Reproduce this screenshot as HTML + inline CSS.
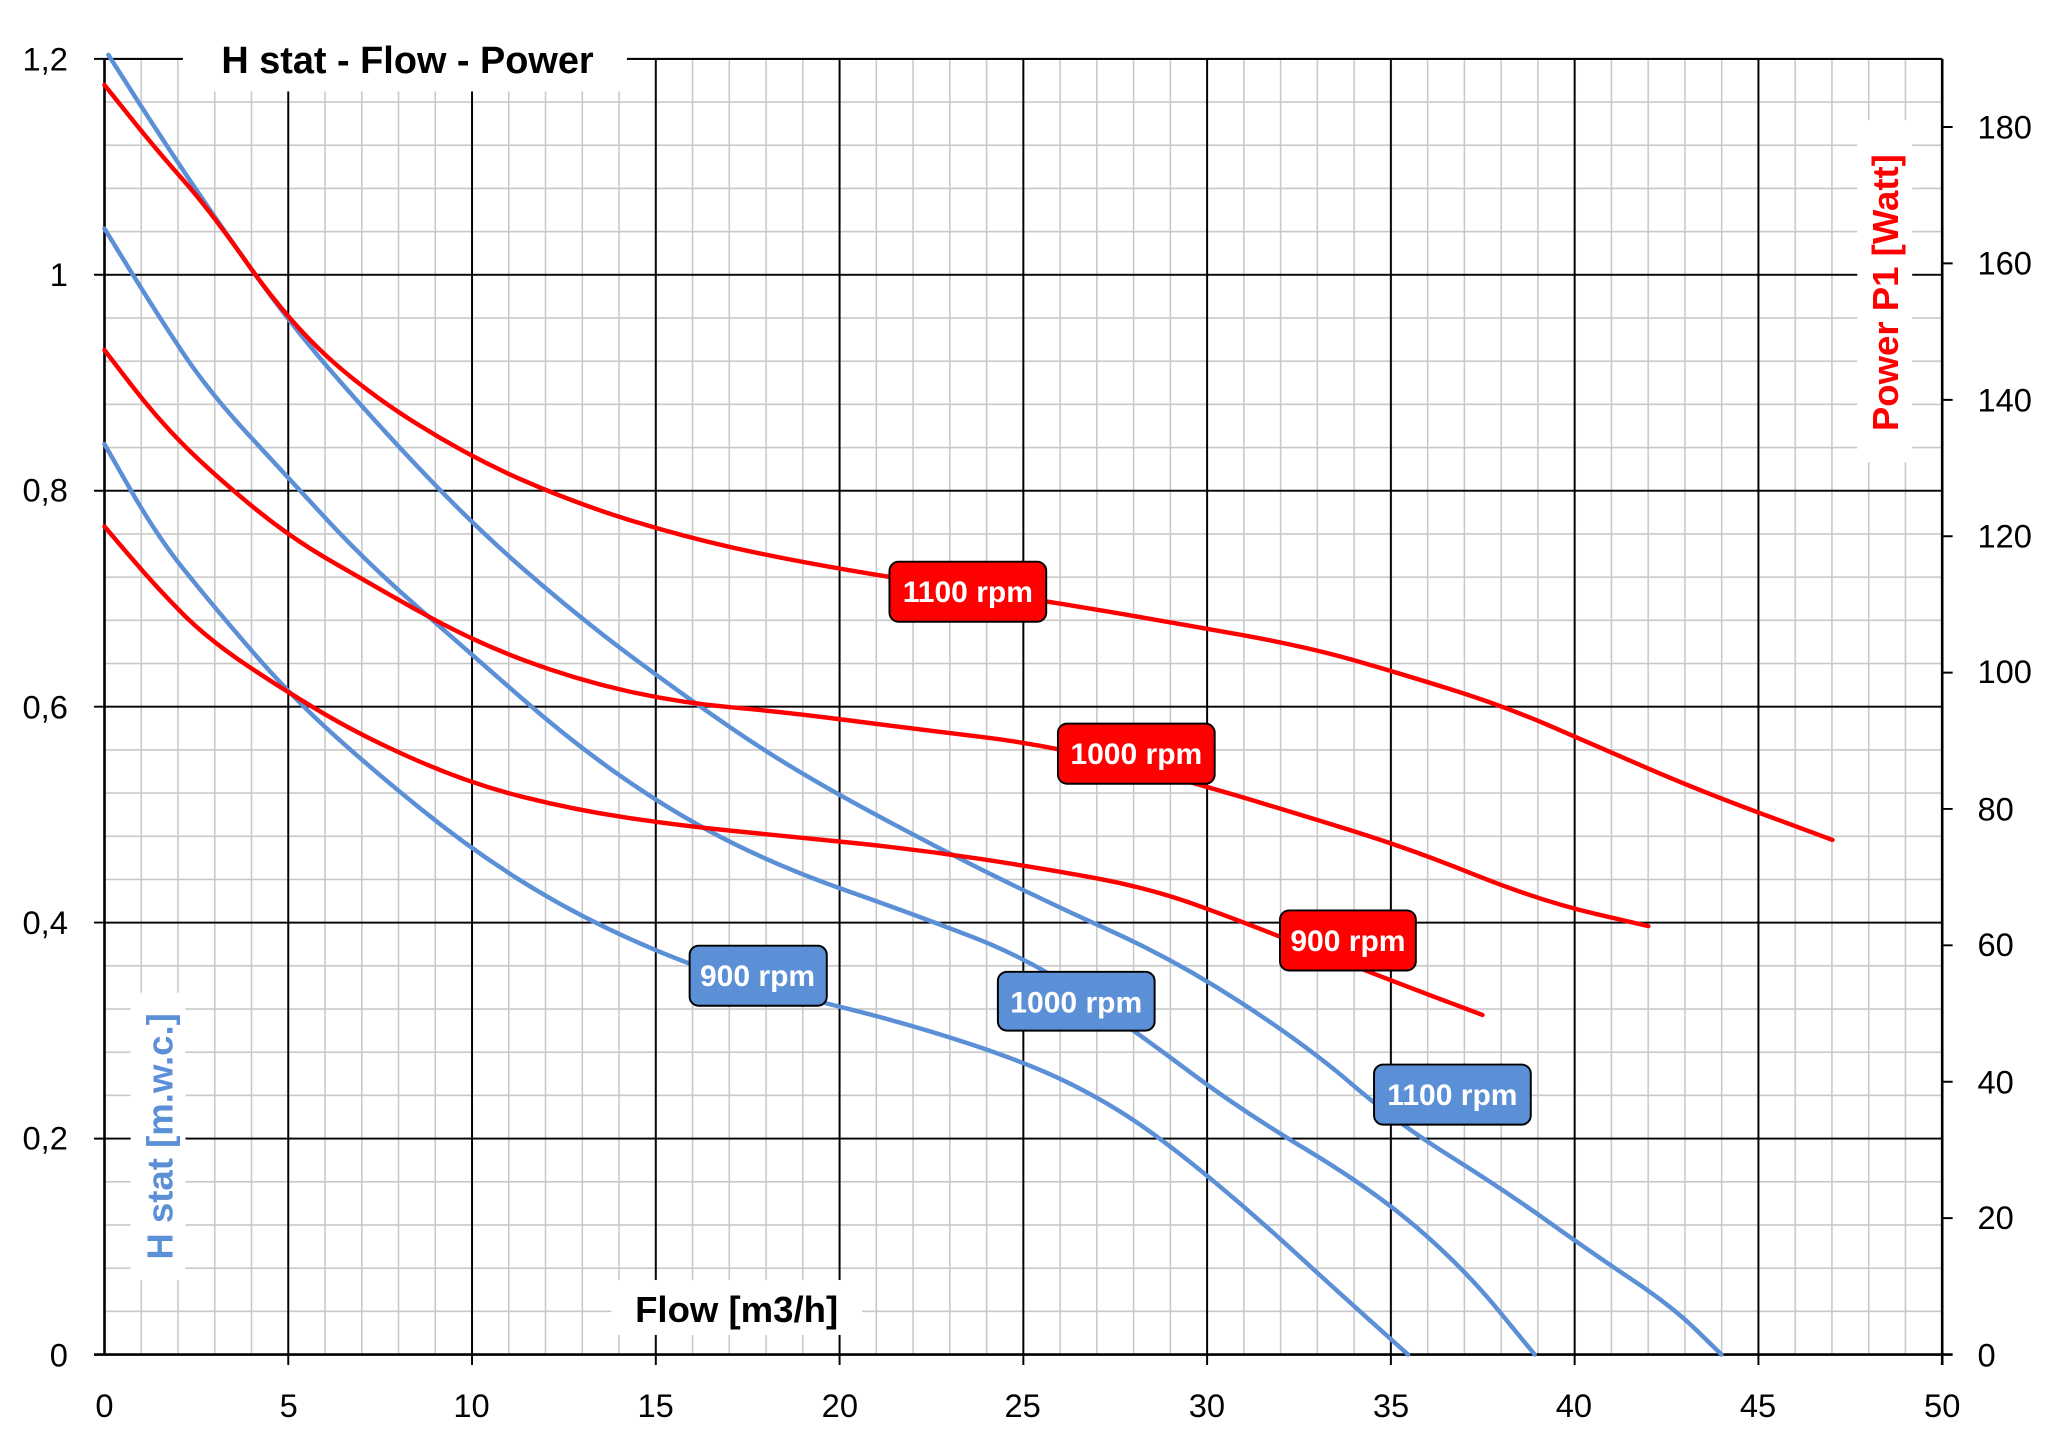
<!DOCTYPE html>
<html><head><meta charset="utf-8"><style>html,body{margin:0;padding:0;background:#fff}svg{display:block}</style></head>
<body>
<svg width="2048" height="1446" viewBox="0 0 1568 1107" xmlns="http://www.w3.org/2000/svg" font-family="'Liberation Sans',sans-serif">
<defs>
<pattern id="mn" x="79.4" y="44.4" width="28.14" height="33.0667" patternUnits="userSpaceOnUse">
<path d="M0.6,0 V33.0667 M0,0.6 H28.14" stroke="#c8c8c8" stroke-width="1.2" fill="none"/>
</pattern>
<pattern id="mj" x="79.2" y="44.2" width="140.7" height="165.333" patternUnits="userSpaceOnUse">
<path d="M0.8,0 V165.333 M0,0.8 H140.7" stroke="#000" stroke-width="1.5" fill="none"/>
</pattern>
</defs>
<rect width="1568" height="1107" fill="#fff"/>
<rect x="80" y="45" width="1407" height="992" fill="url(#mn)"/>
<rect x="80" y="45" width="1407" height="992" fill="url(#mj)"/>
<g stroke="#000" stroke-width="1.5">
<path d="M220.7,1037V1045 M361.4,1037V1045 M502.1,1037V1045 M642.8,1037V1045 M783.5,1037V1045 M924.2,1037V1045 M1064.9,1037V1045 M1205.6,1037V1045 M1346.3,1037V1045"/>
<path d="M72,45H80 M72,210.3H80 M72,375.7H80 M72,541H80 M72,706.3H80 M72,871.7H80"/>
<path d="M1487,932.6H1495 M1487,828.2H1495 M1487,723.7H1495 M1487,619.3H1495 M1487,514.9H1495 M1487,410.5H1495 M1487,306.1H1495 M1487,201.6H1495 M1487,97.2H1495"/>
</g>
<line x1="80" y1="45" x2="80" y2="1037" stroke="#000" stroke-width="2"/>
<line x1="1487" y1="45" x2="1487" y2="1045" stroke="#000" stroke-width="2"/>
<line x1="80" y1="45" x2="1487" y2="45" stroke="#000" stroke-width="1.5"/>
<line x1="72" y1="1037" x2="1495" y2="1037" stroke="#000" stroke-width="2"/>
<rect x="140" y="25" width="340" height="45" fill="#fff"/>
<text x="312" y="56" font-size="29" font-weight="bold" text-anchor="middle">H stat - Flow - Power</text>
<g fill="none" stroke-width="3.4" stroke-linejoin="round" stroke-linecap="round">
<path stroke="#5b8fd6" d="M83,42 L101.5,71 Q120,100 140,130 Q160,160 190,202.5 Q220,245 250,280 Q280,315 320,357.5 Q360,400 400,435 Q440,470 480,500 Q520,530 560,557.5 Q600,585 650,612.5 Q700,640 750,665 Q800,690 850,712.5 Q900,735 950,767.5 Q1000,800 1035,830 Q1070,860 1110,885 Q1150,910 1185,935 Q1220,960 1250,980 Q1280,1000 1299,1018.5 L1318,1037"/>
<path stroke="#5b8fd6" d="M80,175 L100,207.5 Q120,240 140,270 Q160,300 190,332.5 Q220,365 250,397.5 Q280,430 320,465 Q360,500 400,535 Q440,570 480,597.5 Q520,625 560,645 Q600,665 650,682.5 Q700,700 745,717.5 Q790,735 830,762.5 Q870,790 910,820 Q950,850 1000,880 Q1050,910 1085,940 Q1120,970 1147.5,1003.5 L1175,1037"/>
<path stroke="#5b8fd6" d="M80,340 L100,375 Q120,410 140,435 Q160,460 190,495 Q220,530 250,557.5 Q280,585 320,617.5 Q360,650 400,675 Q440,700 485,720 Q530,740 565,750 Q600,760 650,772.5 Q700,785 745,800 Q790,815 820,830 Q850,845 875,862.5 Q900,880 930,905 Q960,930 990,957.5 Q1020,985 1049,1011 L1078,1037"/>
<path stroke="#f00" d="M80,65 L100,90 Q120,115 140,137.5 Q160,160 190,202.5 Q220,245 250,272.5 Q280,300 320,325 Q360,350 400,367.5 Q440,385 480,397.5 Q520,410 560,419 Q600,428 650,436.5 Q700,445 750,452.5 Q800,460 850,468.5 Q900,477 950,486 Q1000,495 1035,505 Q1070,515 1110,527.5 Q1150,540 1185,555 Q1220,570 1260,587.5 Q1300,605 1351.5,624 L1403,643"/>
<path stroke="#f00" d="M80,268 L100,294 Q120,320 140,340 Q160,360 190,385 Q220,410 250,427.5 Q280,445 320,467.5 Q360,490 400,505 Q440,520 480,529 Q520,538 560,541.5 Q600,545 650,551.5 Q700,558 750,564 Q800,570 850,582.5 Q900,595 950,610 Q1000,625 1040,637.5 Q1080,650 1130,670 Q1180,690 1221,699.5 L1262,709"/>
<path stroke="#f00" d="M80,403 L100,426.5 Q120,450 140,470 Q160,490 190,510 Q220,530 250,547.5 Q280,565 320,582.5 Q360,600 400,610 Q440,620 480,626 Q520,632 560,636 Q600,640 650,645 Q700,650 750,657.5 Q800,665 840,672.5 Q880,680 915,692.5 Q950,705 1000,725 Q1050,745 1092.5,761 L1135,777"/>
</g>
<g font-size="23" font-weight="bold" fill="#fff" text-anchor="middle" stroke-width="1.5">
<rect x="681" y="430" width="120" height="46" rx="7" fill="#f00" stroke="#000"/><text x="741" y="461">1100 rpm</text>
<rect x="810" y="554" width="120" height="46" rx="7" fill="#f00" stroke="#000"/><text x="870" y="585">1000 rpm</text>
<rect x="980" y="697" width="104" height="46" rx="7" fill="#f00" stroke="#000"/><text x="1032" y="728">900 rpm</text>
<rect x="528" y="724" width="105" height="46" rx="7" fill="#5b8fd6" stroke="#000"/><text x="580" y="755">900 rpm</text>
<rect x="764" y="744" width="120" height="45" rx="7" fill="#5b8fd6" stroke="#000"/><text x="824" y="775">1000 rpm</text>
<rect x="1052" y="815" width="120" height="46" rx="7" fill="#5b8fd6" stroke="#000"/><text x="1112" y="846">1100 rpm</text>
</g>
<g font-size="25" fill="#000">
<g text-anchor="end">
<text x="52" y="54">1,2</text><text x="52" y="219">1</text><text x="52" y="384">0,8</text><text x="52" y="550">0,6</text><text x="52" y="715">0,4</text><text x="52" y="880">0,2</text><text x="52" y="1046">0</text>
</g>
<g text-anchor="start">
<text x="1514" y="106">180</text><text x="1514" y="210">160</text><text x="1514" y="315">140</text><text x="1514" y="419">120</text><text x="1514" y="523">100</text><text x="1514" y="628">80</text><text x="1514" y="732">60</text><text x="1514" y="837">40</text><text x="1514" y="941">20</text><text x="1514" y="1046">0</text>
</g>
<g text-anchor="middle">
<text x="80" y="1085">0</text><text x="221" y="1085">5</text><text x="361" y="1085">10</text><text x="502" y="1085">15</text><text x="643" y="1085">20</text><text x="783" y="1085">25</text><text x="924" y="1085">30</text><text x="1065" y="1085">35</text><text x="1205" y="1085">40</text><text x="1346" y="1085">45</text><text x="1487" y="1085">50</text>
</g>
</g>
<rect x="468" y="980" width="192" height="42" fill="#fff"/>
<text x="564" y="1012" font-size="28" font-weight="bold" text-anchor="middle">Flow [m3/h]</text>
<rect x="100" y="760" width="42" height="220" fill="#fff"/>
<text transform="translate(132,870) rotate(-90)" font-size="28" font-weight="bold" fill="#5b8fd6" text-anchor="middle">H stat [m.w.c.]</text>
<rect x="1422" y="92" width="42" height="262" fill="#fff"/>
<text transform="translate(1453,224) rotate(-90)" font-size="28" font-weight="bold" fill="#f00" text-anchor="middle">Power P1  [Watt]</text>
</svg>
</body></html>
